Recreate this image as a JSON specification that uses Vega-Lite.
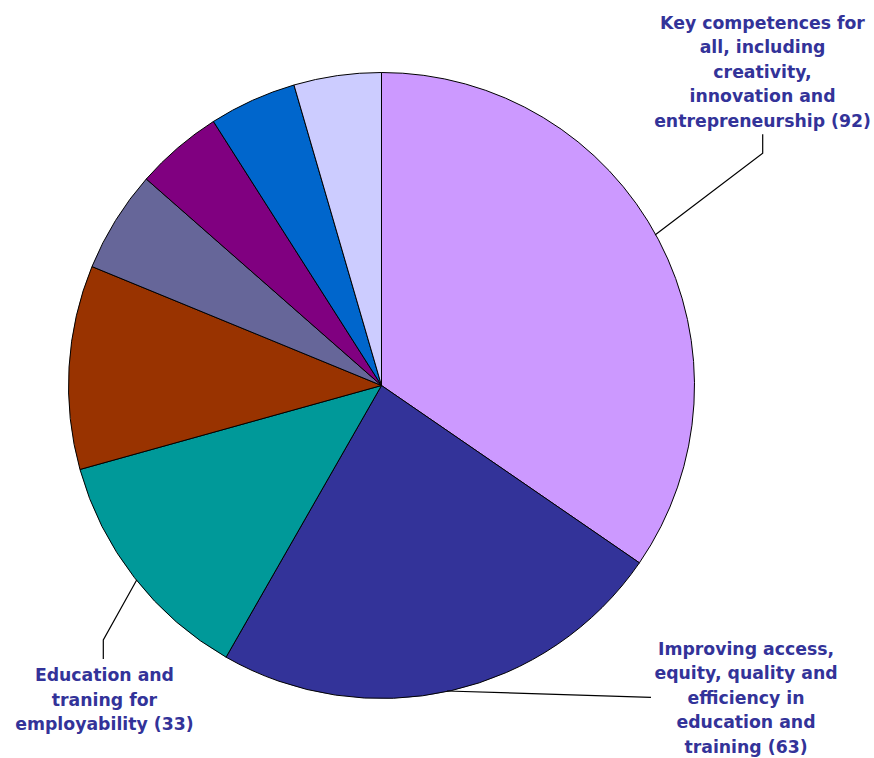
{
  "$schema": "https://vega.github.io/schema/vega-lite/v6.json",
  "width": 763,
  "height": 745,
  "autosize": {"type": "none"},
  "padding": {"left": 0, "top": 13, "right": 111, "bottom": 0},
  "background": "white",
  "config": {"view": {"stroke": null}},
  "data": {
    "values": [
      {"category": "Key competences for all, including creativity, innovation and entrepreneurship", "label": "Key competences for\nall, including\ncreativity,\ninnovation and\nentrepreneurship (92)", "projects": 92, "rank": 1},
      {"category": "Improving access, equity, quality and efficiency in education and training", "label": "Improving access,\nequity, quality and\nefficiency in\neducation and\ntraining (63)", "projects": 63, "rank": 2},
      {"category": "Education and traning for employability", "label": "Education and\ntraning for\nemployability (33)", "projects": 33, "rank": 3},
      {"category": "Other theme A", "label": "", "projects": 28, "rank": 4},
      {"category": "Other theme B", "label": "", "projects": 14, "rank": 5},
      {"category": "Other theme C", "label": "", "projects": 12, "rank": 6},
      {"category": "Other theme D", "label": "", "projects": 12, "rank": 7},
      {"category": "Other theme E", "label": "", "projects": 12, "rank": 8}
    ]
  },
  "encoding": {
    "theta": {"field": "projects", "type": "quantitative", "stack": true},
    "order": {"field": "rank", "type": "quantitative", "sort": "ascending"},
    "detail": {"field": "category", "type": "nominal"}
  },
  "layer": [
    {
      "mark": {"type": "arc", "outerRadius": 313, "stroke": "black", "strokeWidth": 1},
      "encoding": {
        "color": {
          "field": "category",
          "type": "nominal",
          "scale": {
            "domain": [
              "Key competences for all, including creativity, innovation and entrepreneurship",
              "Improving access, equity, quality and efficiency in education and training",
              "Education and traning for employability",
              "Other theme A", "Other theme B", "Other theme C", "Other theme D", "Other theme E"
            ],
            "range": ["#CC99FF", "#333399", "#009999", "#993300", "#666699", "#800080", "#0066CC", "#CCCCFF"]
          },
          "legend": null
        }
      }
    },
    {
      "mark": {"type": "text", "radius": 400, "dx": 27, "dy": -170.6, "align": "center", "baseline": "alphabetic", "lineBreak": "\n", "lineHeight": 24.5, "font": "DejaVu Sans", "fontWeight": "bold", "fontSize": 17.3, "color": "#333399"},
      "encoding": {
        "text": {"condition": {"test": "datum.rank === 1", "field": "label"}, "value": ""}
      }
    },
    {
      "mark": {"type": "text", "radius": 400, "dx": 275.5, "dy": -120.5, "align": "center", "baseline": "alphabetic", "lineBreak": "\n", "lineHeight": 24.5, "font": "DejaVu Sans", "fontWeight": "bold", "fontSize": 17.3, "color": "#333399"},
      "encoding": {
        "text": {"condition": {"test": "datum.rank === 2", "field": "label"}, "value": ""}
      }
    },
    {
      "mark": {"type": "text", "radius": 400, "dx": 38.6, "dy": 50.3, "align": "center", "baseline": "alphabetic", "lineBreak": "\n", "lineHeight": 24.5, "font": "DejaVu Sans", "fontWeight": "bold", "fontSize": 17.3, "color": "#333399"},
      "encoding": {
        "text": {"condition": {"test": "datum.rank === 3", "field": "label"}, "value": ""}
      }
    },
    {
      "transform": [{"filter": "datum.rank === 1"}],
      "mark": {"type": "point", "filled": false, "stroke": "black", "strokeWidth": 1.2, "opacity": 1, "size": 4, "shape": "M273.5,-150.5L381.2,-232.2L381.2,-251.2"},
      "encoding": {"theta": null, "order": null, "detail": null}
    },
    {
      "transform": [{"filter": "datum.rank === 2"}],
      "mark": {"type": "point", "filled": false, "stroke": "black", "strokeWidth": 1.2, "opacity": 1, "size": 4, "shape": "M65.5,305.5L269.5,311.8"},
      "encoding": {"theta": null, "order": null, "detail": null}
    },
    {
      "transform": [{"filter": "datum.rank === 3"}],
      "mark": {"type": "point", "filled": false, "stroke": "black", "strokeWidth": 1.2, "opacity": 1, "size": 4, "shape": "M-244.8,194.5L-278.2,254.5L-278.2,273.5"},
      "encoding": {"theta": null, "order": null, "detail": null}
    }
  ]
}
